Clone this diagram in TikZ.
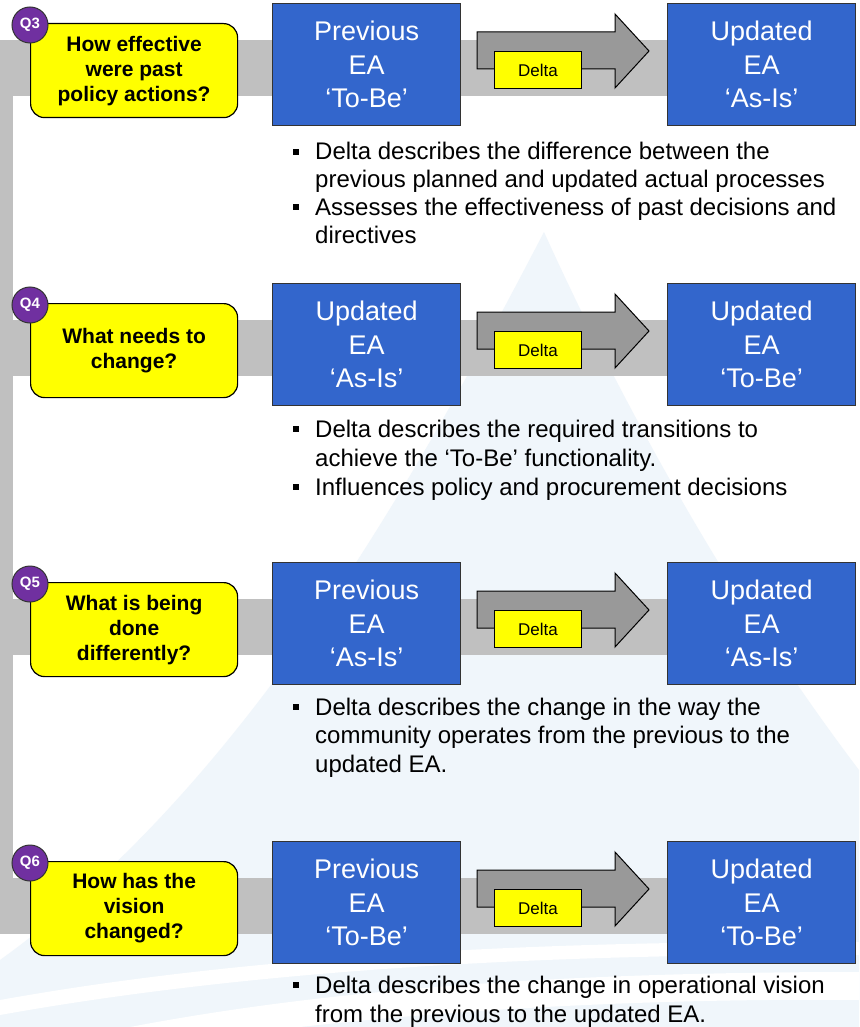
\documentclass[tikz,border=0pt]{standalone}
\usepackage{fontspec}
\setmainfont{Liberation Sans}
\definecolor{eablue}{HTML}{3366CC}
\definecolor{askyellow}{HTML}{FFFF00}
\definecolor{qpurple}{HTML}{7030A0}
\definecolor{barcolor}{HTML}{C0C0C0}
\definecolor{arrowgray}{HTML}{999999}
\definecolor{wm}{HTML}{F0F6FB}

% one row: bar, two EA boxes, the delta arrow, the question box and its badge
% #1 top y, #2 name suffix, #3 badge, #4 question, #5 left box, #6 right box
\newcommand\earow[6]{%
  \fill[bartone] (0,#1+37) rectangle (667,#1+93);
  \node[bluebox] (prev#2) at (272,#1) {#5};
  \node[bluebox] (next#2) at (667,#1) {#6};
  \draw[shaft] (477,#1+29) -- (615,#1+29) -- (615,#1+11) -- (649,#1+48)
      -- (615,#1+85) -- (615,#1+66) -- (477,#1+66) -- cycle;
  \node[deltabox] (delta#2) at (494,#1+48) {Delta};
  \node[askbox] (ask#2) at (30,#1+20) {#4};
  \node[qbadge] (q#2) at (30,#1+22) {#3};
}
% square bullet in front of a line whose baseline is at #1
\newcommand\bsq[1]{\fill (293,#1-11) rectangle (299,#1-5);}

\begin{document}
\begin{tikzpicture}[x=1pt,y=-1pt,
  bluebox/.style={draw=black!80, line width=1.2pt, fill=eablue, text=white,
    align=center, minimum width=188pt, minimum height=122pt, inner sep=0pt,
    anchor=north west, font=\fontsize{27}{33.5}\selectfont},
  askbox/.style={draw=black, line width=1.2pt, fill=askyellow, rounded corners=14pt,
    align=center, minimum width=207pt, minimum height=94pt, inner sep=0pt,
    anchor=north west, font=\bfseries\fontsize{21}{25}\selectfont},
  qbadge/.style={circle, draw=black!80, line width=1pt, fill=qpurple, text=white,
    minimum size=36pt, inner sep=0pt, font=\bfseries\fontsize{15}{15}\selectfont},
  deltabox/.style={draw=black, line width=1pt, fill=askyellow, minimum width=87pt,
    minimum height=37pt, inner sep=0pt, anchor=north west,
    font=\fontsize{17}{17}\selectfont},
  bartone/.style={fill=barcolor},
  shaft/.style={fill=arrowgray, draw=black, line width=1pt},
  btext/.style={anchor=base west, inner sep=0pt, font=\fontsize{24}{28}\selectfont},
]
\useasboundingbox (0,0) rectangle (859,1027);
\fill[white] (0,0) rectangle (859,1027);

% pale watermark behind everything
\fill[wm] (544,232) .. controls (420,470) and (250,780) .. (0,960) -- (0,1027)
  -- (859,1027) -- (859,770) .. controls (730,600) and (620,400) .. (544,232) -- cycle;
\fill[white] (0,1000) .. controls (250,955) and (550,940) .. (859,942)
  -- (859,955) .. controls (550,953) and (250,970) .. (0,1015) -- cycle;
\fill[white] (130,1027) .. controls (350,985) and (600,972) .. (859,972)
  -- (859,1000) .. controls (650,998) and (450,1010) .. (300,1027) -- cycle;

% vertical spine on the left
\fill[bartone] (0,40) rectangle (13,934);

\earow{3}{A}{Q3}{How effective\\were past\\policy actions?}{Previous\\EA\\‘To-Be’}{Updated\\EA\\‘As-Is’}
\earow{283}{B}{Q4}{What needs to\\change?}{Updated\\EA\\‘As-Is’}{Updated\\EA\\‘To-Be’}
\earow{562}{C}{Q5}{What is being\\done\\differently?}{Previous\\EA\\‘As-Is’}{Updated\\EA\\‘As-Is’}
\earow{841}{D}{Q6}{How has the\\vision\\changed?}{Previous\\EA\\‘To-Be’}{Updated\\EA\\‘To-Be’}

% notes under each row
\bsq{160}\node[btext] (noteA1) at (315,160) {Delta describes the difference between the};
\node[btext] (noteA2) at (315,188) {previous planned and updated actual processes};
\bsq{215}\node[btext] (noteA3) at (315,215) {Assesses the effectiveness of past decisions and};
\node[btext] (noteA4) at (315,243) {directives};

\bsq{437}\node[btext] (noteB1) at (315,437) {Delta describes the required transitions to};
\node[btext] (noteB2) at (315,466) {achieve the ‘To-Be’ functionality.};
\bsq{495}\node[btext] (noteB3) at (315,495) {Influences policy and procurement decisions};

\bsq{715}\node[btext] (noteC1) at (315,715) {Delta describes the change in the way the};
\node[btext] (noteC2) at (315,743) {community operates from the previous to the};
\node[btext] (noteC3) at (315,772) {updated EA.};

\bsq{993}\node[btext] (noteD1) at (315,993) {Delta describes the change in operational vision};
\node[btext] (noteD2) at (315,1022) {from the previous to the updated EA.};
\end{tikzpicture}
\end{document}
